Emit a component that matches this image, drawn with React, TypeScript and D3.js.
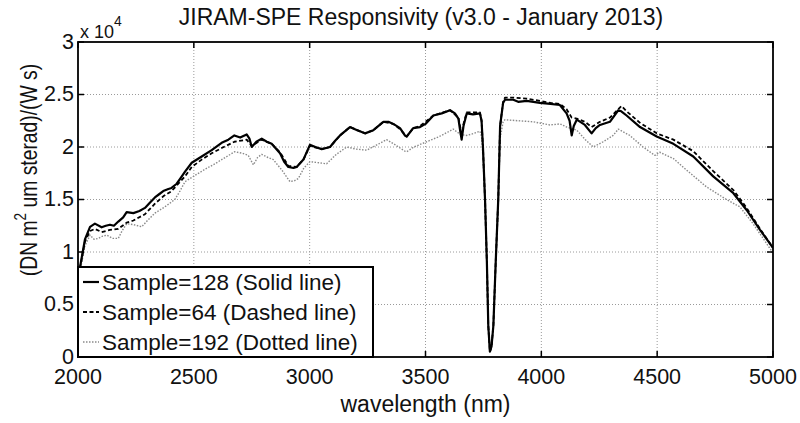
import * as d3 from "d3";

// wavelength (nm) / responsivity (x 1e4) samples
const solidWl = [2000, 2009, 2030, 2052, 2073, 2102, 2120, 2138, 2155, 2174, 2195, 2210, 2239, 2265, 2289, 2310, 2332, 2350, 2368, 2390, 2404, 2426, 2445, 2462, 2491, 2534, 2577, 2620, 2649, 2675, 2700, 2728, 2740, 2750, 2770, 2793, 2815, 2836, 2872, 2890, 2908, 2930, 2944, 2973, 3001, 3025, 3052, 3088, 3110, 3131, 3174, 3205, 3239, 3275, 3318, 3340, 3361, 3390, 3411, 3419, 3447, 3476, 3500, 3534, 3570, 3606, 3627, 3642, 3650, 3656, 3664, 3678, 3705, 3735, 3742, 3748, 3757, 3765, 3771, 3778, 3785, 3793, 3803, 3814, 3822, 3835, 3843, 3879, 3900, 3937, 3994, 4040, 4080, 4109, 4122, 4131, 4140, 4153, 4188, 4217, 4235, 4253, 4296, 4332, 4345, 4368, 4426, 4498, 4570, 4656, 4742, 4829, 4886, 4944, 5000];
const solidVal = [0.72, 0.86, 1.12, 1.24, 1.27, 1.235, 1.25, 1.26, 1.25, 1.29, 1.33, 1.38, 1.37, 1.39, 1.42, 1.47, 1.52, 1.55, 1.58, 1.6, 1.61, 1.65, 1.71, 1.765, 1.85, 1.91, 1.97, 2.04, 2.07, 2.11, 2.09, 2.12, 2.08, 2.0, 2.05, 2.08, 2.05, 2.03, 1.94, 1.86, 1.81, 1.8, 1.81, 1.88, 2.02, 2.0, 1.98, 2.0, 2.06, 2.11, 2.19, 2.16, 2.13, 2.16, 2.24, 2.24, 2.22, 2.18, 2.11, 2.1, 2.18, 2.19, 2.22, 2.3, 2.32, 2.35, 2.32, 2.27, 2.15, 2.07, 2.2, 2.32, 2.31, 2.32, 2.25, 2.0, 1.5, 0.9, 0.3, 0.05, 0.1, 0.3, 0.9, 1.5, 2.2, 2.42, 2.45, 2.45, 2.43, 2.44, 2.42, 2.41, 2.4, 2.32, 2.25, 2.11, 2.2, 2.26, 2.21, 2.13, 2.18, 2.21, 2.24, 2.35, 2.34, 2.3, 2.19, 2.1, 2.03, 1.91, 1.72, 1.56, 1.4, 1.21, 1.04];

const dashedWl = [2000, 2009, 2030, 2052, 2073, 2102, 2138, 2174, 2210, 2239, 2289, 2332, 2368, 2404, 2462, 2491, 2534, 2577, 2620, 2675, 2728, 2750, 2793, 2836, 2872, 2908, 2944, 2973, 3001, 3052, 3088, 3131, 3174, 3239, 3275, 3318, 3361, 3390, 3419, 3447, 3476, 3534, 3606, 3642, 3656, 3664, 3678, 3735, 3742, 3748, 3757, 3765, 3771, 3778, 3785, 3793, 3803, 3814, 3822, 3835, 3843, 3879, 3937, 3994, 4040, 4080, 4109, 4131, 4153, 4188, 4217, 4253, 4296, 4346, 4368, 4426, 4498, 4570, 4656, 4742, 4829, 4886, 4944, 5000];
const dashedVal = [0.72, 0.85, 1.1, 1.2, 1.22, 1.19, 1.21, 1.22, 1.28, 1.3, 1.36, 1.46, 1.53, 1.58, 1.72, 1.81, 1.88, 1.94, 1.99, 2.05, 2.07, 2.01, 2.07, 2.03, 1.95, 1.82, 1.81, 1.88, 2.01, 1.98, 2.0, 2.11, 2.19, 2.13, 2.16, 2.24, 2.22, 2.17, 2.1, 2.18, 2.2, 2.3, 2.35, 2.28, 2.12, 2.22, 2.33, 2.33, 2.25, 2.0, 1.5, 0.9, 0.3, 0.05, 0.1, 0.3, 0.9, 1.5, 2.2, 2.43, 2.47, 2.47, 2.46, 2.44, 2.42, 2.41, 2.36, 2.28, 2.27, 2.24, 2.19, 2.24, 2.28, 2.39, 2.34, 2.23, 2.13, 2.07, 1.96, 1.77, 1.59, 1.42, 1.22, 1.04];

const dottedWl = [2000, 2009, 2030, 2052, 2070, 2088, 2105, 2124, 2150, 2174, 2190, 2210, 2240, 2275, 2300, 2332, 2375, 2418, 2440, 2462, 2505, 2550, 2591, 2635, 2677, 2710, 2735, 2757, 2775, 2793, 2820, 2843, 2880, 2915, 2935, 2951, 2975, 3001, 3040, 3073, 3115, 3160, 3200, 3246, 3290, 3332, 3370, 3411, 3419, 3450, 3505, 3560, 3620, 3650, 3678, 3710, 3735, 3742, 3748, 3757, 3765, 3771, 3778, 3785, 3793, 3803, 3814, 3822, 3835, 3843, 3900, 3965, 4037, 4081, 4110, 4153, 4190, 4224, 4267, 4310, 4332, 4382, 4439, 4490, 4511, 4570, 4627, 4713, 4799, 4857, 4914, 5000];
const dottedVal = [0.68, 0.82, 1.06, 1.16, 1.12, 1.13, 1.15, 1.16, 1.13, 1.13, 1.2, 1.27, 1.26, 1.24, 1.3, 1.37, 1.43, 1.5, 1.58, 1.67, 1.73, 1.79, 1.84, 1.9, 1.955, 1.94, 1.92, 1.83, 1.9, 1.93, 1.9, 1.88, 1.78, 1.67, 1.68, 1.7, 1.8, 1.86, 1.85, 1.84, 1.93, 2.0, 1.98, 1.97, 2.02, 2.07, 2.02, 1.96, 1.955, 2.0, 2.05, 2.1, 2.17, 2.12, 2.11, 2.13, 2.15, 2.1, 1.9, 1.45, 0.87, 0.29, 0.05, 0.1, 0.3, 0.87, 1.45, 2.08, 2.24, 2.26, 2.25, 2.24, 2.21, 2.22, 2.19, 2.16, 2.07, 2.0, 2.05, 2.11, 2.17, 2.11, 2.0, 1.92, 1.95, 1.89, 1.78, 1.62, 1.5, 1.43, 1.27, 0.99];

const xTicks = [2000, 2500, 3000, 3500, 4000, 4500, 5000];
const yTicks = [0, 0.5, 1, 1.5, 2, 2.5, 3];
const legendLabels = ["Sample=128 (Solid line)", "Sample=64 (Dashed line)", "Sample=192 (Dotted line)"];

const W = 800;
const H = 423;
const margin = { top: 42, right: 27, bottom: 66, left: 78 };
const FONT = "'Liberation Sans', Arial, Helvetica, sans-serif";

export default function App() {
  const x = d3.scaleLinear().domain([2000, 5000]).range([margin.left, W - margin.right]);
  const y = d3.scaleLinear().domain([0, 3]).range([H - margin.bottom, margin.top]);

  const toPts = (wl: number[], v: number[]) => wl.map((w, i) => [w, v[i]] as [number, number]);
  const line = d3
    .line<[number, number]>()
    .x((d) => x(d[0]))
    .y((d) => y(d[1]));

  const x0 = x(2000);
  const x1 = x(5000);
  const y0 = y(0);
  const y1 = y(3);

  const styles = [
    { stroke: "#000", width: 2.2, dash: "none" },
    { stroke: "#000", width: 1.8, dash: "4,2.5" },
    { stroke: "#8a8a8a", width: 1.4, dash: "1.5,1.5" },
  ];

  // legend box geometry
  const lg = { x: x0, y: 267, w: 295, h: y0 - 267 };
  const rowY = [282, 312, 342];

  return (
    <svg
      width={W}
      height={H}
      style={{ position: "absolute", left: 0, top: 0, background: "#fff" }}
      fontFamily={FONT}
    >
      <rect width={W} height={H} fill="#fff" />

      {/* grid */}
      <g stroke="#9a9a9a" strokeWidth={1} strokeDasharray="1,2">
        {xTicks.slice(1, -1).map((t) => (
          <line key={"gx" + t} x1={x(t)} x2={x(t)} y1={y0} y2={y1} />
        ))}
        {yTicks.slice(1, -1).map((t) => (
          <line key={"gy" + t} x1={x0} x2={x1} y1={y(t)} y2={y(t)} />
        ))}
      </g>

      {/* curves */}
      <clipPath id="plot">
        <rect x={x0} y={y1} width={x1 - x0} height={y0 - y1} />
      </clipPath>
      <g clipPath="url(#plot)" fill="none" strokeLinejoin="round">
        <path d={line(toPts(dottedWl, dottedVal)) || ""} stroke={styles[2].stroke} strokeWidth={styles[2].width} strokeDasharray={styles[2].dash} />
        <path d={line(toPts(dashedWl, dashedVal)) || ""} stroke={styles[1].stroke} strokeWidth={styles[1].width} strokeDasharray={styles[1].dash} />
        <path d={line(toPts(solidWl, solidVal)) || ""} stroke={styles[0].stroke} strokeWidth={styles[0].width} />
      </g>

      {/* ticks (inward, all four sides) */}
      <g stroke="#000" strokeWidth={1.5}>
        {xTicks.map((t) => (
          <g key={"tx" + t}>
            <line x1={x(t)} x2={x(t)} y1={y0} y2={y0 - 6} />
            <line x1={x(t)} x2={x(t)} y1={y1} y2={y1 + 6} />
          </g>
        ))}
        {yTicks.map((t) => (
          <g key={"ty" + t}>
            <line x1={x0} x2={x0 + 6} y1={y(t)} y2={y(t)} />
            <line x1={x1} x2={x1 - 6} y1={y(t)} y2={y(t)} />
          </g>
        ))}
      </g>

      {/* frame */}
      <rect x={x0} y={y1} width={x1 - x0} height={y0 - y1} fill="none" stroke="#000" strokeWidth={1.8} />

      {/* tick labels */}
      <g fontSize={21.5} fill="#111">
        {xTicks.map((t) => (
          <text key={"lx" + t} x={x(t)} y={y0 + 27} textAnchor="middle">
            {t}
          </text>
        ))}
        {yTicks.map((t) => (
          <text key={"ly" + t} x={x0 - 4} y={y(t) - 1} dy="0.36em" textAnchor="end">
            {t}
          </text>
        ))}
      </g>

      {/* exponent */}
      <text x={80} y={38} fontSize={18} fill="#111">
        x 10
        <tspan dy={-12} fontSize={14}>4</tspan>
      </text>

      {/* title */}
      <text x={421} y={25} fontSize={23} textAnchor="middle" fill="#111">
        JIRAM-SPE Responsivity (v3.0 - January 2013)
      </text>

      {/* x label */}
      <text x={(x0 + x1) / 2} y={412} fontSize={23} textAnchor="middle" fill="#111">
        wavelength (nm)
      </text>

      {/* y label */}
      <g transform={`translate(37, 170) rotate(-90) scale(0.84, 1)`}>
        <text x={0} y={0} fontSize={23} textAnchor="middle" fill="#111">
          (DN m<tspan dy={-11} fontSize={16}>2</tspan>
          <tspan dy={11}> um sterad)/(W s)</tspan>
        </text>
      </g>

      {/* legend */}
      <rect x={lg.x} y={lg.y} width={lg.w} height={lg.h} fill="#fff" stroke="#000" strokeWidth={2} />
      {legendLabels.map((lab, i) => (
        <g key={lab}>
          <line
            x1={lg.x + 5}
            x2={lg.x + 21}
            y1={rowY[i]}
            y2={rowY[i]}
            stroke={styles[i].stroke}
            strokeWidth={styles[i].width}
            strokeDasharray={styles[i].dash}
          />
          <text x={lg.x + 24} y={rowY[i]} dy="0.36em" fontSize={22.5} fill="#111">
            {lab}
          </text>
        </g>
      ))}
    </svg>
  );
}
